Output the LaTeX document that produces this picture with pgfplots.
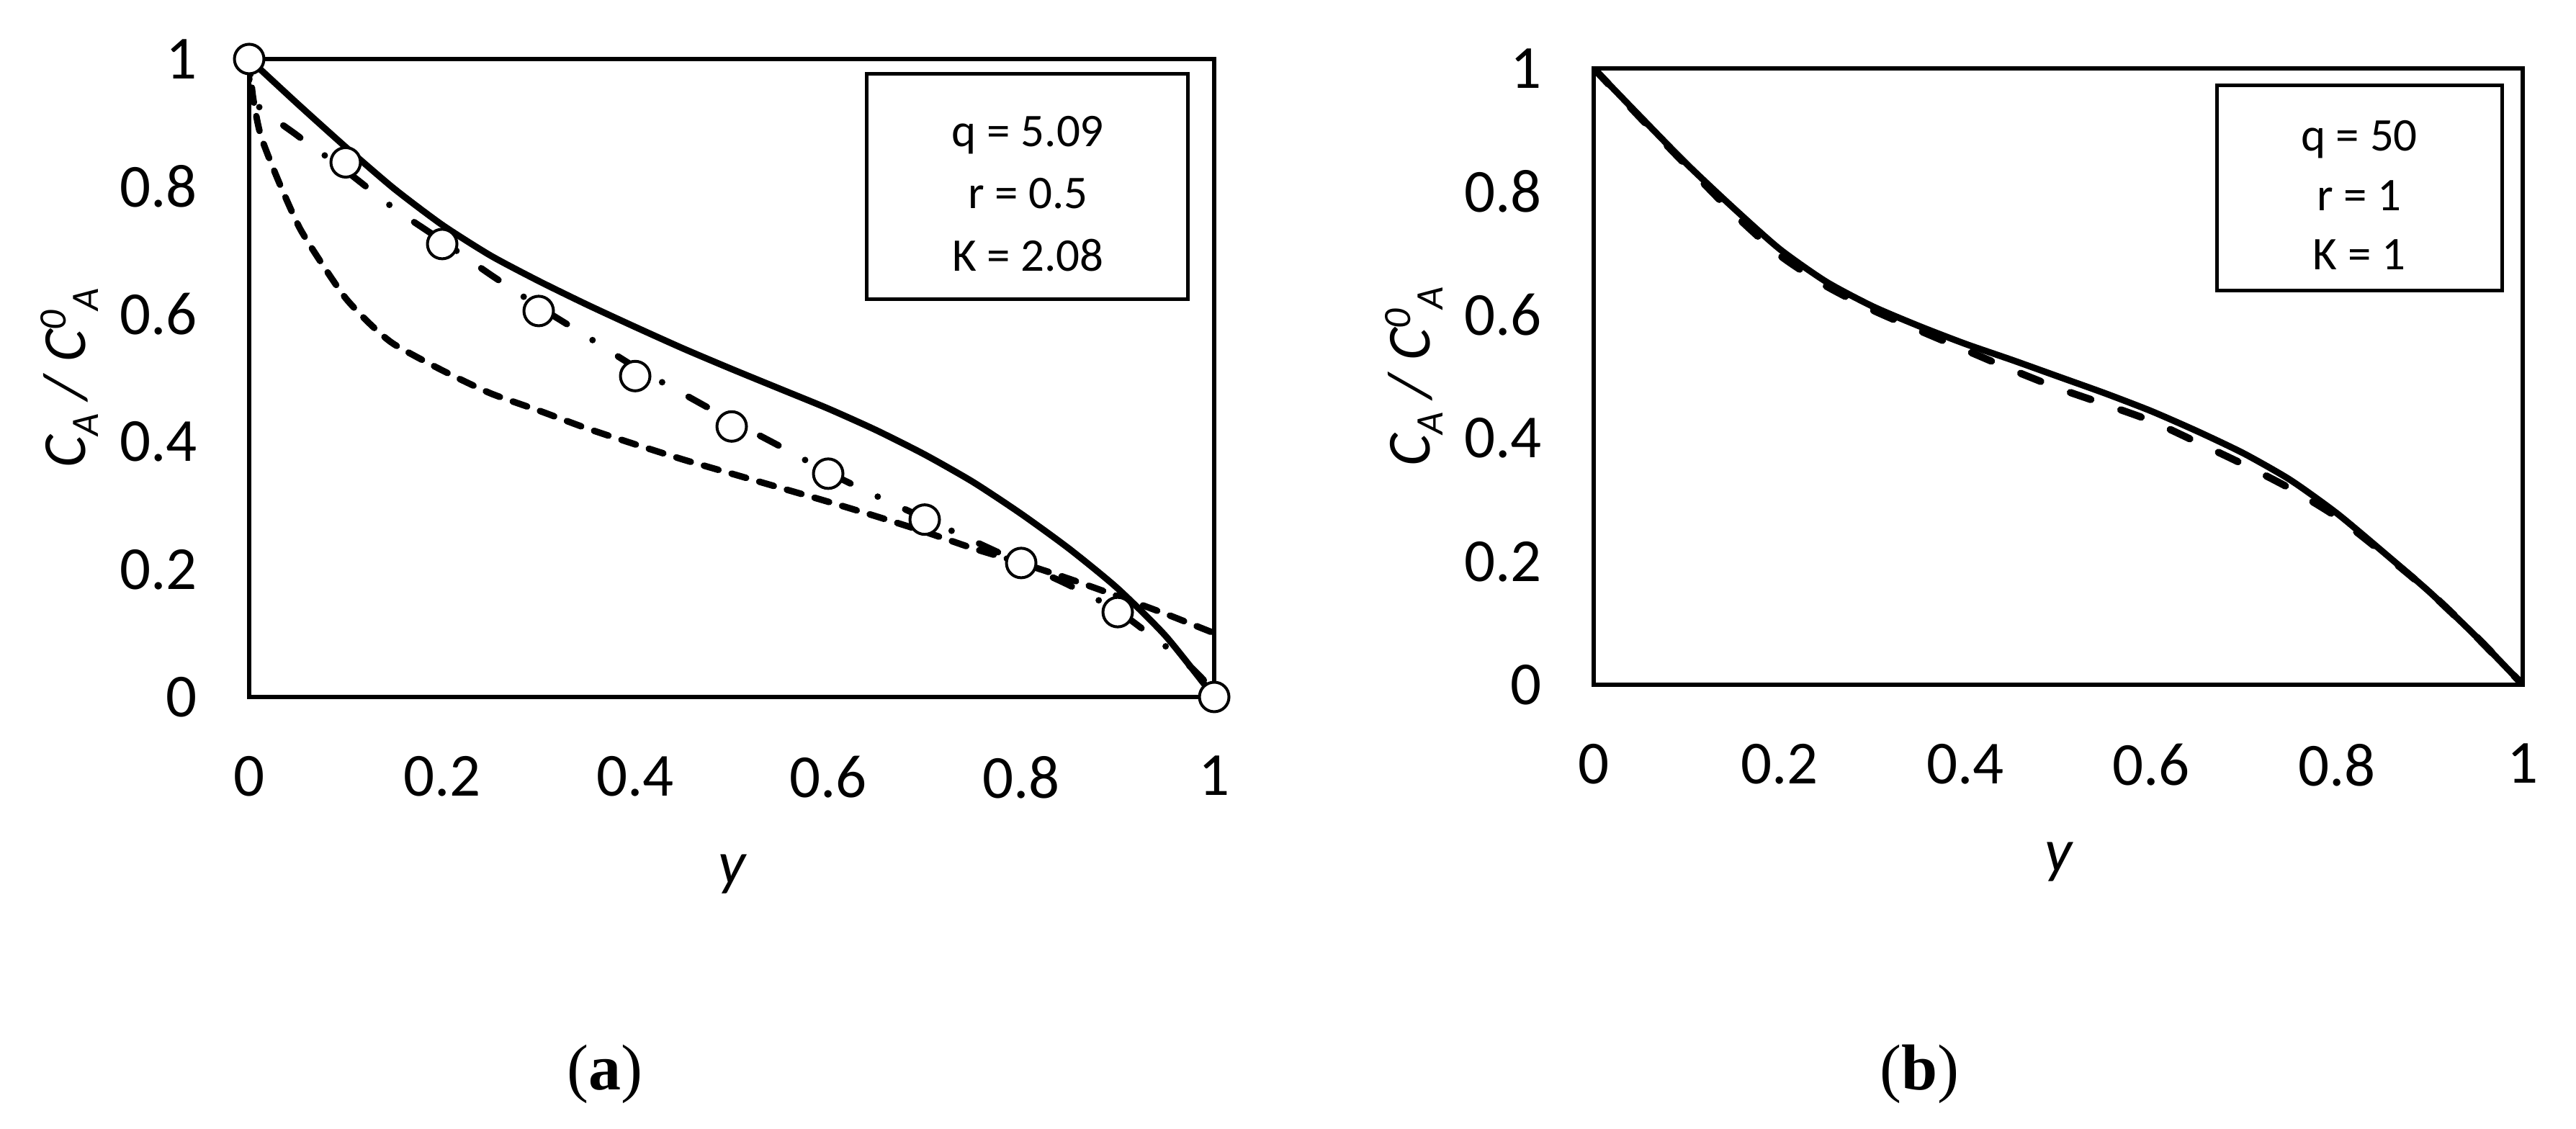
\documentclass[border=0pt]{standalone}
\usepackage{fontspec}
\setmainfont{Carlito}
\newfontfamily\capfont{Liberation Serif}
\usepackage{pgfplots}
\pgfplotsset{compat=1.18}
\usepackage{pgfplotstable}

% (a) model curves and data
\pgfplotstableread{
x y
0 1
0.05 0.930
0.1 0.862
0.15 0.797
0.2 0.740
0.25 0.692
0.3 0.652
0.35 0.615
0.4 0.580
0.45 0.546
0.5 0.514
0.55 0.483
0.6 0.452
0.65 0.418
0.7 0.380
0.75 0.337
0.8 0.287
0.85 0.232
0.9 0.170
0.95 0.095
1 0
}\solidA
\pgfplotstableread{
x y
0 1
0.004 0.94
0.012 0.88
0.03 0.81
0.052 0.736
0.075 0.68
0.1 0.625
0.125 0.585
0.15 0.553
0.2 0.512
0.25 0.476
0.3 0.449
0.35 0.421
0.4 0.396
0.45 0.372
0.5 0.350
0.55 0.328
0.6 0.306
0.65 0.283
0.7 0.259
0.75 0.233
0.8 0.210
0.85 0.185
0.9 0.158
0.95 0.130
1 0.100
}\shortA
\pgfplotstableread{
x y
0 1
0.004 0.935
0.05 0.880
0.1 0.825
0.15 0.766
0.2 0.715
0.25 0.662
0.3 0.612
0.35 0.565
0.4 0.517
0.45 0.475
0.5 0.433
0.55 0.393
0.6 0.352
0.65 0.315
0.7 0.280
0.75 0.245
0.8 0.210
0.85 0.175
0.9 0.135
0.94 0.090
0.965 0.062
0.99 0.025
1 0
}\dashdotA
\pgfplotstableread{
x y
0 1
0.1 0.838
0.2 0.710
0.3 0.605
0.4 0.503
0.5 0.424
0.6 0.350
0.7 0.278
0.8 0.210
0.9 0.133
1 0
}\markA
% (b)
\pgfplotstableread{
x y
0 1
0.05 0.922
0.1 0.845
0.15 0.774
0.2 0.707
0.25 0.654
0.3 0.614
0.35 0.582
0.4 0.553
0.45 0.527
0.5 0.500
0.55 0.473
0.6 0.444
0.65 0.411
0.7 0.375
0.75 0.332
0.8 0.278
0.85 0.215
0.9 0.150
0.95 0.078
1 0
}\solidB
\pgfplotstableread{
x y
0 1
0.05 0.920
0.1 0.842
0.15 0.765
0.2 0.697
0.25 0.647
0.3 0.608
0.35 0.575
0.4 0.543
0.45 0.511
0.5 0.481
0.55 0.455
0.6 0.428
0.65 0.393
0.7 0.357
0.75 0.318
0.8 0.272
0.85 0.213
0.9 0.150
0.95 0.078
1 0
}\dashB

\newcommand\subfs{\fontsize{5.4}{6}\selectfont}
\newcommand\ylab{{\itshape C\raisebox{-1.8pt}{\subfs A} / C\raisebox{2.7pt}{\subfs 0}\raisebox{-1.8pt}{\subfs A}}}

\pgfplotsset{
  myaxis/.style={
    scale only axis,
    xmin=0, xmax=1, ymin=0, ymax=1,
    axis line style={line width=0.65pt},
    tick style={draw=none},
    major tick length=0pt,
    xtick={0,0.2,0.4,0.6,0.8,1},
    ytick={0,0.2,0.4,0.6,0.8,1},
    /pgf/number format/assume math mode=true,
    ticklabel style={font=\fontsize{8.5}{10}\selectfont},
    xticklabel style={yshift=-4.7pt},
    yticklabel style={xshift=-3.7pt},
    xlabel={\itshape y},
    ylabel={\ylab},
    label style={font=\fontsize{8.5}{10}\selectfont},
    x label style={at={(axis description cs:0.5,0)}, anchor=base, yshift=-26pt},
    y label style={at={(axis description cs:0,0.5)}, anchor=center, yshift=25pt},
    clip marker paths=false,
  }
}

\begin{document}
\begin{tikzpicture}
\useasboundingbox (0,0) rectangle (357.7pt,156.8pt);

\begin{axis}[myaxis, at={(34.6pt,60.0pt)}, anchor=south west, width=134pt, height=88.6pt]
  \addplot[line width=0.9pt, smooth, tension=0.4] table {\solidA};
  \addplot[line width=0.9pt, smooth, tension=0.4, line cap=round, dash pattern=on 2.1pt off 1.9pt] table {\shortA};
  \addplot[line width=0.9pt, smooth, tension=0.4, line cap=round, dash pattern=on 2.9pt off 4.2pt on 0pt off 4.2pt] table {\dashdotA};
  \addplot[only marks, mark=*, mark size=2.05pt, mark options={fill=white, draw=black, line width=0.4pt}] table {\markA};
  \draw[line width=0.5pt] (axis cs:0.640,0.624) rectangle (axis cs:0.973,0.977);
  \node[anchor=base, font=\fontsize{6.5}{8}\selectfont] at (axis cs:0.807,0.863) {q = 5.09};
  \node[anchor=base, font=\fontsize{6.5}{8}\selectfont] at (axis cs:0.807,0.766) {r = 0.5};
  \node[anchor=base, font=\fontsize{6.5}{8}\selectfont] at (axis cs:0.807,0.668) {K = 2.08};
\end{axis}

\begin{axis}[myaxis, at={(221.3pt,61.7pt)}, anchor=south west, width=129pt, height=85.6pt]
  \addplot[line width=1pt, smooth, tension=0.4, line cap=round, dash pattern=on 3pt off 4.4pt] table {\dashB};
  \addplot[line width=0.9pt, smooth, tension=0.4] table {\solidB};
  \draw[line width=0.5pt] (axis cs:0.671,0.640) rectangle (axis cs:0.978,0.973);
  \node[anchor=base, font=\fontsize{6.5}{8}\selectfont] at (axis cs:0.824,0.866) {q = 50};
  \node[anchor=base, font=\fontsize{6.5}{8}\selectfont] at (axis cs:0.824,0.769) {r = 1};
  \node[anchor=base, font=\fontsize{6.5}{8}\selectfont] at (axis cs:0.824,0.673) {K = 1};
\end{axis}

\node[anchor=base, font=\capfont\fontsize{9}{10}\selectfont] at (84.0pt,5.4pt) {(\textbf{a})};
\node[anchor=base, font=\capfont\fontsize{9}{10}\selectfont] at (266.5pt,5.4pt) {(\textbf{b})};
\end{tikzpicture}
\end{document}
